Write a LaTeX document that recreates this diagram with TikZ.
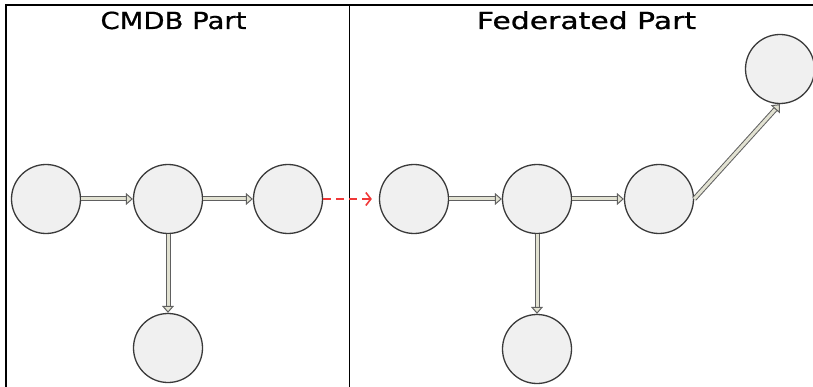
\documentclass[tikz,border=0pt]{standalone}
\usepackage{fontspec}
\usepackage{graphicx}
\setmainfont{DejaVu Sans}
\newfontfamily\titlefont{DejaVu Sans}[FakeBold=0.7]
\usetikzlibrary{arrows.meta}
\definecolor{nodefill}{HTML}{F0F0F0}
\definecolor{nodeline}{HTML}{3A3A3A}
\definecolor{shaftin}{HTML}{E2E2D2}
\definecolor{shaftout}{HTML}{606060}
\definecolor{linkred}{HTML}{F03838}
\begin{document}
\begin{tikzpicture}[x=1pt,y=-1pt,
  ci/.style={circle, minimum size=69pt, inner sep=0pt, draw=nodeline, line width=1.3pt, fill=nodefill},
  title/.style={anchor=base, inner sep=0pt, font=\titlefont\fontsize{23.5}{25}\selectfont},
  conn/.style={draw=shaftout, line width=1pt, double=shaftin, double distance=3pt,
    -{Triangle[open, length=7pt, width=12pt, fill=shaftin]}},
  redlink/.style={draw=linkred, line width=2.2pt, dash pattern=on 8pt off 5pt,
    -{Straight Barb[length=5pt, width=13pt, line width=1.6pt]}, shorten >=7pt},
  frame/.style={draw=black, line width=2pt}]
\useasboundingbox (0,0) rectangle (813,387);
% frame and divider
\draw[frame] (6,387) -- (6,5) -- (813,5);
\draw[draw=black, line width=1.5pt] (349.5,5) -- (349.5,387);
% titles
\node[title] (t1) at (173.5,29) {\scalebox{1.17}[1]{CMDB Part}};
\node[title] (t2) at (586.5,29) {\scalebox{1.27}[1]{Federated Part}};
% CMDB nodes
\node[ci] (a1) at (46,199) {};
\node[ci] (a2) at (168,199) {};
\node[ci] (a3) at (288,199) {};
\node[ci] (a4) at (168,348) {};
% Federated nodes
\node[ci] (b1) at (414,199) {};
\node[ci] (b2) at (537,199) {};
\node[ci] (b3) at (659,199) {};
\node[ci] (b4) at (537,349) {};
\node[ci] (b5) at (780,69) {};
% connectors
\draw[conn] (a1) -- (a2);
\draw[conn] (a2) -- (a3);
\draw[conn] (a2) -- (a4);
\draw[conn] (b1) -- (b2);
\draw[conn] (b2) -- (b3);
\draw[conn] (b2) -- (b4);
\draw[conn] (b3.east) -- (b5.south);
\draw[redlink] (a3.east) -- (b1.west);
\end{tikzpicture}
\end{document}
